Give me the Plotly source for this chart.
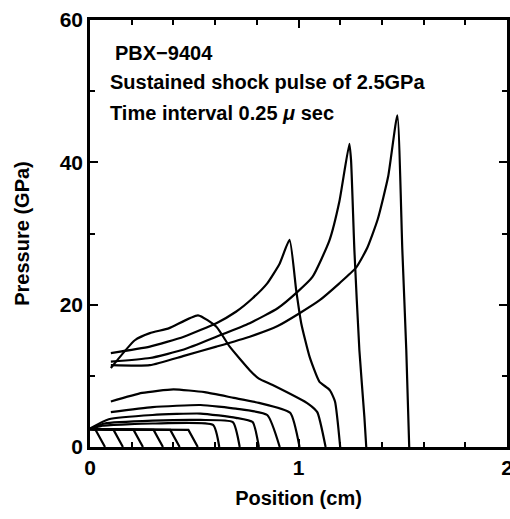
import plotly.graph_objects as go

# ---------------- data ----------------
# Early sustained-pulse profiles (hatched region)
pulse_level = 2.5
hatch_shoulder_x = [0.027, 0.113, 0.209, 0.305, 0.385, 0.472]
hatch_front_x = [0.072, 0.158, 0.254, 0.350, 0.430, 0.517]
hatch_shoulder_p = [2.4, 2.4, 2.4, 2.4, 2.4, 2.4]

prof_I_x = [0.0, 0.06, 0.30, 0.59, 0.62]
prof_I_p = [2.5, 3.0, 3.3, 3.1, 0.0]

prof_H_x = [0.0, 0.07, 0.30, 0.53, 0.685, 0.718]
prof_H_p = [2.5, 3.3, 3.7, 3.8, 3.5, 0.0]

prof_G_x = [0.0, 0.09, 0.30, 0.53, 0.70, 0.78, 0.81]
prof_G_p = [2.6, 3.9, 4.5, 4.7, 4.1, 3.5, 0.0]

prof_F_x = [0.10, 0.30, 0.53, 0.70, 0.85, 0.91]
prof_F_p = [4.9, 5.6, 5.9, 5.4, 4.5, 0.0]

prof_E_x = [0.10, 0.25, 0.40, 0.55, 0.69, 0.81, 0.96, 1.005]
prof_E_p = [6.4, 7.6, 8.1, 7.7, 6.9, 6.2, 4.8, 0.0]

prof_D_x = [0.10, 0.215, 0.287, 0.38, 0.518, 0.606, 0.67, 0.766, 0.81, 0.876, 1.05, 1.09, 1.13]
prof_D_p = [11.1, 15.0, 16.0, 16.7, 18.5, 16.9, 14.1, 10.8, 9.6, 8.7, 6.0, 4.9, 0.0]

prof_C_x = [0.10, 0.287, 0.45, 0.606, 0.70, 0.78, 0.85, 0.91, 0.957, 0.989, 1.013, 1.053, 1.10, 1.15, 1.175, 1.20]
prof_C_p = [13.2, 14.1, 15.5, 17.4, 19.0, 20.9, 23.0, 25.8, 29.1, 22.0, 17.4, 12.7, 9.2, 8.0, 6.4, 0.0]

prof_B_x = [0.10, 0.287, 0.45, 0.606, 0.766, 0.90, 0.995, 1.067, 1.148, 1.196, 1.244, 1.252, 1.268, 1.292, 1.316, 1.325]
prof_B_p = [12.0, 12.5, 13.7, 15.5, 17.4, 19.5, 21.8, 23.9, 29.0, 34.5, 42.6, 40.3, 27.7, 13.6, 4.2, 0.0]

prof_A_x = [0.10, 0.287, 0.45, 0.606, 0.766, 0.90, 1.005, 1.10, 1.196, 1.276, 1.33, 1.38, 1.43, 1.474, 1.498, 1.517, 1.531]
prof_A_p = [11.5, 11.5, 12.8, 14.1, 15.5, 17.0, 18.8, 20.6, 23.0, 25.2, 28.0, 32.0, 38.0, 46.6, 27.7, 13.6, 0.0]

x_tick_vals = [0, 1, 2]
y_tick_vals = [0, 20, 40, 60]

notes = ["PBX\u22129404", "Sustained shock pulse of 2.5GPa", "Time interval 0.25 <i>\u03bc</i> sec"]

# ---------------- figure ----------------
FONT = "Liberation Sans, Arial, sans-serif"
line_style = dict(color="black", width=2.2)

fig = go.Figure()

for sx, fx, sp in zip(hatch_shoulder_x, hatch_front_x, hatch_shoulder_p):
    fig.add_trace(go.Scatter(x=[0.0, sx, fx], y=[pulse_level, sp, 0.0], mode="lines",
                             line=line_style, showlegend=False, hoverinfo="skip"))

for xs, ps in [(prof_I_x, prof_I_p), (prof_H_x, prof_H_p), (prof_G_x, prof_G_p),
               (prof_F_x, prof_F_p), (prof_E_x, prof_E_p), (prof_D_x, prof_D_p),
               (prof_C_x, prof_C_p), (prof_B_x, prof_B_p), (prof_A_x, prof_A_p)]:
    fig.add_trace(go.Scatter(x=xs, y=ps, mode="lines",
                             line=dict(color="black", width=2.2, shape="spline", smoothing=0.5),
                             showlegend=False, hoverinfo="skip"))

ann_pos = [(0.11, 55.3), (0.086, 51.3), (0.086, 47.0)]
for (ax, ay), txt in zip(ann_pos, notes):
    fig.add_annotation(x=ax, y=ay, xref="x", yref="y", text=txt, showarrow=False,
                       xanchor="left", yanchor="middle",
                       font=dict(family=FONT, size=20, color="black", weight="bold"))

axis_common = dict(
    showgrid=False, zeroline=False, showline=True, linecolor="black", linewidth=2.5,
    mirror="allticks", ticks="inside", ticklen=8, tickwidth=2, tickcolor="black",
    automargin=False, ticklabeloverflow="allow",
    tickfont=dict(family=FONT, size=21, color="black", weight="bold"),
)

fig.update_xaxes(range=[0, 2], tickvals=x_tick_vals,
                 minor=dict(dtick=0.2, ticks="inside", ticklen=5, tickwidth=2, tickcolor="black"),
                 title=dict(text="Position (cm)", standoff=14,
                            font=dict(family=FONT, size=20, color="black", weight="bold")),
                 **axis_common)
fig.update_yaxes(range=[0, 60], tickvals=y_tick_vals,
                 minor=dict(dtick=10, ticks="inside", ticklen=5, tickwidth=2, tickcolor="black"),
                 title=dict(text="Pressure (GPa)", standoff=25,
                            font=dict(family=FONT, size=20, color="black", weight="bold")),
                 **axis_common)

fig.update_layout(width=510, height=519, margin=dict(l=90, r=3, t=20, b=72),
                  paper_bgcolor="white", plot_bgcolor="white", showlegend=False)

fig.write_html("out.html", config={"displayModeBar": False},
               post_script="document.body.style.margin='0px';document.body.style.overflow='hidden';"
                           "document.documentElement.style.overflow='hidden';")
